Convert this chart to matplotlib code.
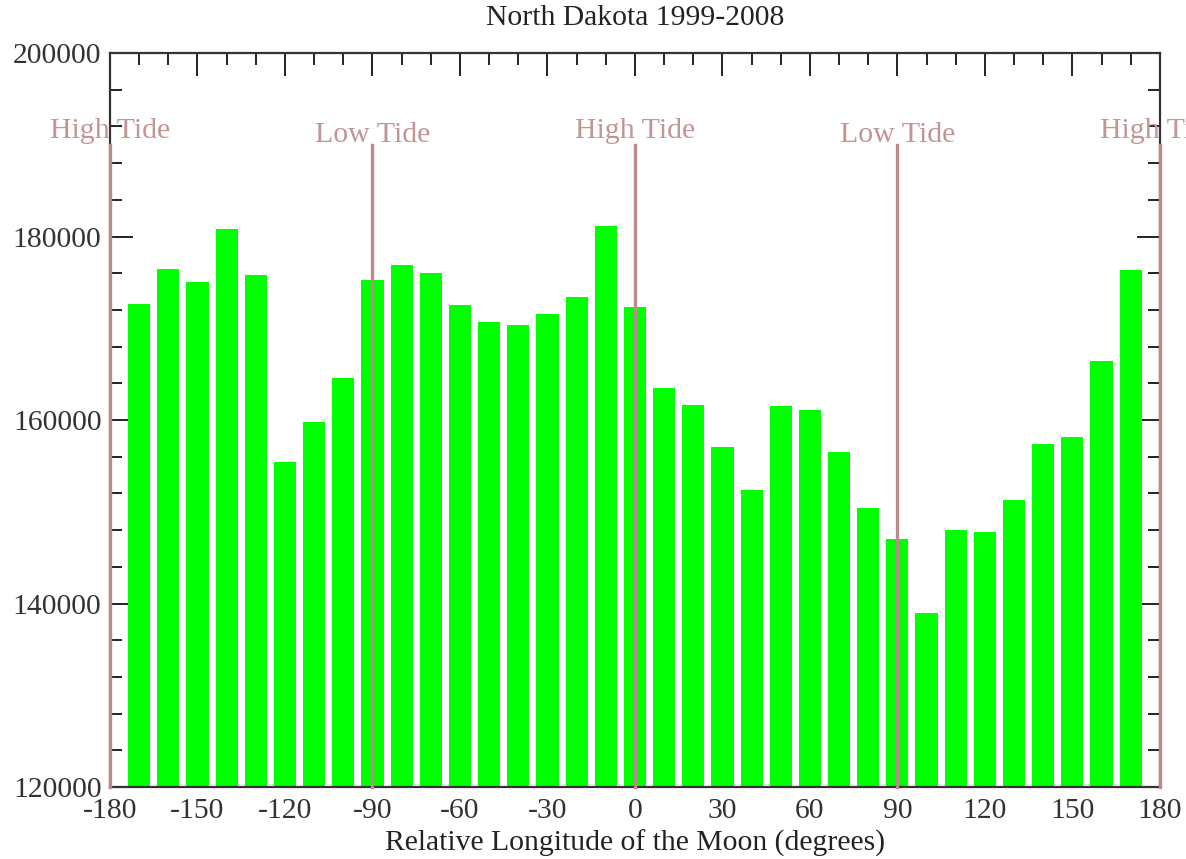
import numpy as np
import matplotlib
matplotlib.use("Agg")
import matplotlib.pyplot as plt
from matplotlib.ticker import MultipleLocator

# bin centres (degrees) and counts
longitude = list(range(-170, 171, 10))
counts = [172600, 176500, 175000, 180850, 175750, 155450, 159800, 164550,
          175250, 176850, 176050, 172550, 170700, 170400, 171500, 173400,
          181100, 172350, 163450, 161600, 157100, 152350, 161550, 161100,
          156550, 150450, 147000, 138950, 148050, 147800, 151250, 157400,
          158200, 166450, 176300]

tide_pos = [-180, -90, 0, 90, 180]
tide_labels = ["High Tide", "Low Tide", "High Tide", "Low Tide", "High Tide"]
tide_text_y = [190750, 190250, 190750, 190250, 190750]

plt.rcParams['font.family'] = ['Liberation Serif', 'DejaVu Serif']
plt.rcParams['axes.unicode_minus'] = False

fig = plt.figure(figsize=(11.86, 8.59), dpi=100)
ax = fig.add_axes([0.0927, 0.0838, 0.8853, 0.8545])

ax.bar(longitude, counts, width=7.6, color="#00ff00", zorder=2)

# tide markers
line_col = "#bb8a8a"
text_col = "#c29494"
for x, lab, ty in zip(tide_pos, tide_labels, tide_text_y):
    ax.plot([x, x], [120000, 190000], color=line_col, lw=2.4, zorder=3,
            clip_on=False)
    ax.text(x, ty, lab, color=text_col, fontsize=21.5, ha="center",
            va="baseline", zorder=4, clip_on=False)

ax.set_xlim(-180, 180)
ax.set_ylim(120000, 200000)
ax.xaxis.set_major_locator(MultipleLocator(30))
ax.xaxis.set_minor_locator(MultipleLocator(10))
ax.yaxis.set_major_locator(MultipleLocator(20000))
ax.yaxis.set_minor_locator(MultipleLocator(4000))

ax.tick_params(which="both", direction="in", top=True, right=True,
               colors="#222222", width=1.4, labelsize=21.3, labelcolor="#333333")
ax.tick_params(which="major", length=16.5)
ax.tick_params(axis="x", which="major", pad=8)
ax.tick_params(axis="y", which="major", pad=6)
ax.tick_params(which="minor", length=8.5)

for s in ax.spines.values():
    s.set_linewidth(1.6)
    s.set_color("#333333")

ax.set_title("North Dakota 1999-2008", fontsize=21.3, color="#222222", pad=20)
ax.set_xlabel("Relative Longitude of the Moon (degrees)", fontsize=21.3,
              color="#222222", labelpad=4)

fig.savefig("out.png", dpi=100)
